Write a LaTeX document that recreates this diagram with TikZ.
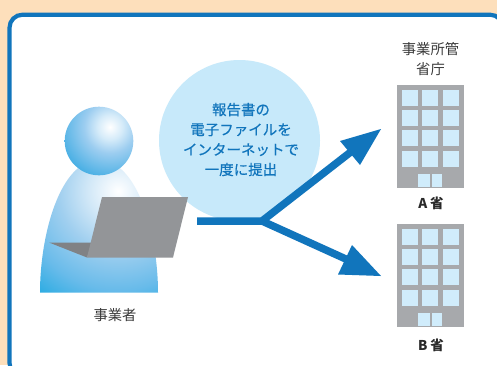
\documentclass[tikz,border=0pt]{standalone}
\usepackage{fontspec}
\setmainfont{Noto Sans CJK JP}
\newfontfamily\msgfont[FakeBold=0.4]{Noto Sans CJK JP}
\definecolor{bgorange}{HTML}{FDDFBB}
\definecolor{frameblue}{HTML}{1175BC}
\definecolor{pale}{HTML}{C7E9FA}
\definecolor{winblue}{HTML}{D0ECFB}
\definecolor{bldgray}{HTML}{A7A9AC}
\definecolor{lapgray}{HTML}{939598}
\definecolor{keygray}{HTML}{808285}
\definecolor{txtgray}{HTML}{3A3A3A}
\definecolor{skyblue}{HTML}{29ABE2}
\definecolor{hA}{HTML}{D5EBF9}
\definecolor{hB}{HTML}{9CCDF0}
\definecolor{hC}{HTML}{48AFE4}
\definecolor{bA}{HTML}{D0E7F7}
\definecolor{bB}{HTML}{A0CFEF}
\definecolor{bC}{HTML}{68BBEA}
\pgfdeclareradialshading{headball}{\pgfpointorigin}{color(0bp)=(white); color(6bp)=(hA); color(12.5bp)=(hB); color(25bp)=(hC); color(50bp)=(hC)}
\pgfdeclareradialshading{bodyball}{\pgfpointorigin}{color(0bp)=(white); color(6bp)=(bA); color(11.5bp)=(bB); color(19bp)=(bC); color(25bp)=(skyblue); color(50bp)=(skyblue)}
\tikzset{
  lbl/.style={font=\fontsize{14.3}{15}\selectfont,text=txtgray,inner sep=0pt,align=center},
  minlbl/.style={font=\fontsize{13.5}{15}\selectfont\bfseries,text=txtgray!70!black,inner sep=0pt},
  msg/.style={font=\fontsize{14.5}{20}\selectfont\msgfont,text=frameblue,inner sep=0pt,align=center},
  win/.style={fill=winblue},
  flow/.style={draw=frameblue,line width=7.5pt},
  tip/.style={fill=frameblue}
}
\newcommand{\officeblock}[1]{%
  \begin{scope}[yshift=#1]
    \fill[bldgray] (397,85) rectangle (464,188);
    \foreach \yy in {90,110,130,151}{
      \foreach \xx in {402,422,443}{
        \fill[win] (\xx,\yy) rectangle ++(16,16);
      }
    }
    \fill[win] (418,174) rectangle (429.5,187);
    \fill[win] (431.5,174) rectangle (442,187);
  \end{scope}}
\begin{document}
\begin{tikzpicture}[x=1pt,y=-1pt]
\useasboundingbox (0,0) rectangle (497,365);
\fill[bgorange] (0,0) rectangle (497,365);
\begin{scope}
\clip (0,0) rectangle (497,365);
\draw[frameblue,line width=4.2pt,fill=white,rounded corners=13pt] (9.5,14.7) rectangle (503,376);
\end{scope}
% circle
\fill[pale] (239.5,140.5) circle (80.5);
\node[msg] (message) at (241,139.5) {報告書の\\電子ファイルを\\インターネットで\\一度に提出};
% person body
\begin{scope}
\clip (40,292.5) .. controls (40,235) and (60,160) .. (99,160) .. controls (138,160) and (158,235) .. (158,292.5) -- cycle;
\shade[shading=bodyball] (118,191) circle (130);
\end{scope}
% head
\begin{scope}
\clip (99,141) circle (34.3);
\shade[shading=headball] (110,127) circle (52);
\end{scope}
% laptop
\fill[keygray] (49,242.5) -- (92,242.5) -- (87,257.5) -- cycle;
\fill[lapgray] (102,197) -- (188,197) -- (173,257.5) -- (87,257.5) -- cycle;
% connectors
\coordinate (start) at (197,221);
\coordinate (junction) at (262,221);
\coordinate (tipA) at (381,129);
\coordinate (tipB) at (381,276);
\coordinate (neckA) at (352,151);
\coordinate (neckB) at (348,260);
\draw[flow,line join=miter] (start) -- (junction) -- (neckA);
\draw[flow,line join=miter] (junction) -- (neckB);
\fill[tip] (tipA) -- (340,141) -- (360,165) -- cycle;
\fill[tip] (tipB) -- (352,245) -- (338,274.5) -- cycle;
% buildings
\officeblock{0pt}
\officeblock{-139pt}
% labels
\node[lbl] (agency) at (430.5,59) {事業所管\\[5pt]省庁};
\node[minlbl] (minA) at (431,203) {A\kern3pt 省};
\node[minlbl] (minB) at (431,345) {B\kern3pt 省};
\node[lbl] (operator) at (115,315) {事業者};
\end{tikzpicture}
\end{document}
